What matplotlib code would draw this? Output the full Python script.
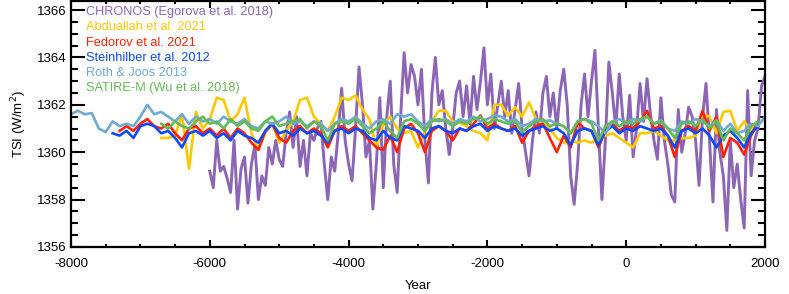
import numpy as np
import matplotlib
matplotlib.use("Agg")
import matplotlib.pyplot as plt
from matplotlib.ticker import MultipleLocator

plt.rcParams['font.family'] = ['Liberation Sans', 'DejaVu Sans']

# ---- data ----
chronos_start, chronos_step = -6000, 50
chronos = [
    1359.2, 1358.5, 1360.5, 1359.2, 1359.4, 1358.9, 1358.3, 1360.5, 1357.6, 1359.3,
    1359.8, 1357.85, 1359.5, 1360.3, 1358.0, 1359.0, 1358.6, 1360.2, 1359.5, 1360.5,
    1359.7, 1359.4, 1360.8, 1361.7, 1360.2, 1361.5, 1359.4, 1360.5, 1359.0, 1360.8,
    1360.5, 1361.0, 1361.3, 1359.5, 1358.0, 1359.8, 1359.2, 1360.8, 1362.7, 1360.5,
    1359.5, 1358.8, 1361.0, 1363.6, 1362.0, 1359.8, 1360.5, 1357.6, 1359.5, 1362.3,
    1358.5, 1361.5, 1363.0, 1359.5, 1358.3, 1361.5, 1364.2, 1362.5, 1363.7, 1363.2,
    1362.0, 1363.5, 1360.5, 1358.7, 1362.5, 1364.0, 1362.0, 1362.6, 1361.0, 1359.9,
    1361.0, 1362.5, 1363.0, 1361.5, 1362.8, 1361.2, 1363.2, 1361.8, 1363.0, 1364.4,
    1362.0, 1363.3, 1361.0, 1362.0, 1363.0, 1361.5, 1362.6, 1360.8, 1361.8, 1362.9,
    1361.0, 1360.0, 1359.0, 1360.5, 1361.7, 1360.8, 1362.5, 1363.2, 1361.5, 1362.5,
    1361.0, 1362.6, 1363.5, 1362.0, 1359.0, 1357.8, 1359.5, 1362.0, 1363.3, 1361.5,
    1363.0, 1364.3, 1361.0, 1358.0, 1360.5, 1363.8, 1362.5, 1361.0, 1363.3, 1361.5,
    1360.5, 1362.4, 1359.8, 1361.0, 1362.9, 1361.3, 1363.1, 1361.6, 1360.5, 1359.7,
    1362.3, 1360.5, 1359.5, 1358.2, 1357.9, 1361.8, 1360.0, 1360.8, 1361.9, 1361.5,
    1360.5, 1358.6, 1361.5, 1362.9, 1360.5, 1357.9, 1361.8, 1360.0, 1359.0, 1356.7,
    1360.5, 1358.5, 1359.5, 1358.0, 1356.8, 1362.6, 1359.0, 1360.5, 1361.0, 1362.8, 1363.2,
]

abduallah_start, abduallah_step = -6700, 100
abduallah = [
    1360.6, 1360.6, 1360.7, 1361.6, 1359.3, 1361.7, 1361.0, 1361.4, 1362.3, 1362.2,
    1361.3, 1361.6, 1362.3, 1360.8, 1360.1, 1360.8, 1361.2, 1360.4, 1360.9, 1361.3,
    1362.2, 1362.3, 1361.5, 1361.2, 1360.9, 1361.5, 1362.3, 1362.2, 1362.4, 1361.8,
    1361.4, 1360.2, 1361.2, 1361.5, 1361.0, 1360.8, 1360.9, 1360.2, 1360.9, 1361.3,
    1361.75, 1361.75, 1361.3, 1361.25, 1361.1, 1360.9, 1360.8, 1360.5, 1362.0, 1362.0,
    1361.55, 1361.9, 1361.5, 1362.1, 1361.4, 1361.2, 1361.0, 1360.6, 1360.4, 1360.5,
    1360.4, 1360.5, 1360.4, 1360.6, 1360.7, 1360.8, 1360.6, 1360.4, 1360.2, 1360.8,
    1360.8, 1360.9, 1360.7, 1360.5, 1360.5, 1360.6, 1360.6, 1360.7, 1361.6, 1361.5,
    1360.8, 1361.7, 1361.75, 1360.9, 1361.3, 1360.9, 1361.3,
]

fedorov_start, fedorov_step = -7300, 100
fedorov = [
    1360.9, 1361.1, 1360.9, 1361.2, 1361.4, 1361.1, 1361.0, 1361.2, 1360.8, 1360.5,
    1361.0, 1361.1, 1360.8, 1361.0, 1360.7, 1361.0, 1360.6, 1361.0, 1360.8, 1360.4,
    1360.1, 1360.9, 1361.2, 1360.6, 1360.4, 1360.9, 1361.1, 1360.8, 1361.0, 1360.8,
    1360.2, 1360.9, 1361.1, 1360.9, 1361.1, 1360.8, 1360.5, 1360.2, 1360.1, 1360.7,
    1360.0, 1361.0, 1361.2, 1360.8, 1360.0, 1360.9, 1361.1, 1360.9, 1360.5, 1361.0,
    1360.9, 1361.2, 1361.55, 1361.0, 1361.2, 1361.0, 1360.9, 1361.1, 1360.4, 1360.9,
    1361.1, 1361.2, 1360.6, 1360.0, 1360.7, 1360.2, 1361.25, 1361.0, 1360.9, 1360.2,
    1360.9, 1361.2, 1360.9, 1361.1, 1361.0, 1361.3, 1361.75, 1361.0, 1361.1, 1360.7,
    1359.8, 1360.9, 1361.1, 1360.9, 1361.75, 1360.9, 1361.5, 1359.8, 1360.6, 1360.4,
    1359.9, 1360.7, 1361.3,
]

steinhilber_start, steinhilber_step = -7400, 100
steinhilber = [
    1360.8, 1360.7, 1360.9, 1360.6, 1361.1, 1361.2, 1361.1, 1360.8, 1360.9, 1360.6,
    1360.2, 1360.8, 1360.9, 1360.7, 1360.9, 1360.6, 1360.8, 1360.5, 1360.9, 1360.7,
    1360.6, 1360.4, 1360.9, 1361.2, 1360.8, 1360.9, 1360.7, 1361.0, 1360.8, 1360.9,
    1360.7, 1360.4, 1360.9, 1361.0, 1360.8, 1361.0, 1360.9, 1360.6, 1360.5, 1360.9,
    1360.6, 1360.5, 1361.1, 1361.0, 1360.9, 1360.6, 1361.0, 1361.1, 1360.9, 1360.8,
    1361.0, 1360.9, 1361.1, 1361.2, 1360.9, 1361.1, 1361.0, 1360.9, 1361.0, 1360.7,
    1360.9, 1361.0, 1361.1, 1360.9, 1361.0, 1360.8, 1360.3, 1360.9, 1361.0, 1360.9,
    1360.3, 1360.9, 1361.1, 1360.8, 1361.0, 1360.9, 1361.1, 1361.0, 1360.9, 1361.0,
    1360.7, 1360.2, 1360.9, 1361.0, 1360.8, 1361.0, 1360.7, 1360.2, 1360.7, 1360.9,
    1360.6, 1360.2, 1360.8, 1361.1,
]

roth_start, roth_step = -8000, 100
roth_joos = [
    1361.6, 1361.75, 1361.6, 1361.65, 1361.0, 1360.85, 1361.3, 1361.1, 1361.2, 1361.1,
    1361.5, 1362.0, 1361.6, 1361.7, 1361.5, 1361.3, 1361.6, 1361.2, 1361.5, 1361.3,
    1361.4, 1361.2, 1361.5, 1361.3, 1361.2, 1361.4, 1361.1, 1361.0, 1361.3, 1361.2,
    1361.3, 1361.5, 1361.2, 1361.3, 1361.1, 1361.3, 1361.2, 1360.9, 1361.2, 1361.4,
    1361.3, 1361.5, 1361.2, 1361.0, 1361.3, 1361.4, 1361.2, 1361.6, 1361.5, 1361.6,
    1361.3, 1361.1, 1361.4, 1361.3, 1361.4, 1361.2, 1361.4, 1361.3, 1361.5, 1361.3,
    1361.4, 1361.55, 1361.5, 1361.3, 1361.4, 1361.1, 1361.2, 1361.4, 1361.3, 1361.35,
    1361.2, 1361.1, 1360.8, 1361.3, 1361.4, 1361.3, 1361.1, 1360.8, 1361.3, 1361.4,
    1361.2, 1361.4, 1361.3, 1361.5, 1361.2, 1361.35, 1361.0, 1360.9, 1361.3, 1361.2,
    1361.4, 1361.3, 1361.1, 1361.35, 1360.9, 1361.2, 1360.8, 1360.9, 1361.2, 1361.1,
    1361.5,
]

satire_start, satire_step = -6700, 100
satire_m = [
    1361.2, 1361.0, 1361.3, 1361.1, 1361.0, 1361.3, 1361.5, 1361.2, 1361.3, 1361.0,
    1361.4, 1361.1, 1361.3, 1361.0, 1360.9, 1361.3, 1361.5, 1361.1, 1361.2, 1361.3,
    1361.4, 1361.0, 1361.3, 1361.1, 1360.5, 1361.2, 1361.3, 1361.2, 1361.4, 1361.1,
    1360.8, 1361.0, 1361.3, 1360.9, 1360.6, 1361.3, 1361.4, 1361.2, 1360.9, 1361.3,
    1361.4, 1361.3, 1361.1, 1361.3, 1361.2, 1361.4, 1361.5, 1361.2, 1361.4, 1361.3,
    1361.2, 1361.3, 1360.85, 1361.1, 1361.3, 1361.4, 1361.1, 1361.2, 1361.1, 1360.8,
    1361.3, 1361.4, 1361.2, 1360.5, 1361.1, 1361.3, 1361.1, 1361.3, 1361.2, 1361.4,
    1361.5, 1361.2, 1361.3, 1361.0, 1360.6, 1361.2, 1361.3, 1361.1, 1361.4, 1361.0,
    1361.3, 1360.5, 1361.0, 1360.8, 1360.5, 1361.1, 1361.3,
]

labels = ["CHRONOS (Egorova et al. 2018)", "Abduallah et al. 2021", "Fedorov et al. 2021",
          "Steinhilber et al. 2012", "Roth & Joos 2013", "SATIRE-M (Wu et al. 2018)"]
colors = ["#8C66B4", "#FFC800", "#FF2208", "#0A4BFF", "#6EAAD2", "#66BA55"]
widths = [2.1, 1.9, 1.9, 1.9, 1.9, 1.9]

series = [
    (chronos_start, chronos_step, chronos),
    (abduallah_start, abduallah_step, abduallah),
    (fedorov_start, fedorov_step, fedorov),
    (steinhilber_start, steinhilber_step, steinhilber),
    (roth_start, roth_step, roth_joos),
    (satire_start, satire_step, satire_m),
]

W, H = 789, 294
fig = plt.figure(figsize=(W/100, H/100), dpi=100)
ax = fig.add_axes([71/W, 1 - 247/H, (765-71)/W, (247-1)/H])

for (s, st, vals), c, lw in zip(series, colors, widths):
    yrs = s + st * np.arange(len(vals))
    ax.plot(yrs, vals, color=c, lw=lw, solid_joinstyle='round')

ax.set_xlim(-8000, 2000)
ax.set_ylim(1356, 1366.38)
ax.xaxis.set_major_locator(MultipleLocator(2000))
ax.xaxis.set_minor_locator(MultipleLocator(500))
ax.yaxis.set_major_locator(MultipleLocator(2))
ax.yaxis.set_minor_locator(MultipleLocator(0.5))
ax.tick_params(axis='both', which='both', direction='in', top=True, right=True,
               labelsize=9.5, width=1.5, colors='black')
ax.tick_params(axis='y', which='major', length=10, pad=3)
ax.tick_params(axis='y', which='minor', length=5)
ax.tick_params(axis='x', which='major', length=5, pad=8)
ax.tick_params(axis='x', which='minor', length=2.5)
for sp in ax.spines.values():
    sp.set_linewidth(1.6)

ax.set_xticks([-8000, -6000, -4000, -2000, 0, 2000])
ax.set_xticklabels(["-8000", "-6000", "-4000", "-2000", "0", "2000"])
ax.set_xlabel("Year", fontsize=9.5, labelpad=7)
ax.set_ylabel("TSI (W/m$^2$)", fontsize=9.5, labelpad=6)

for i, (lab, c) in enumerate(zip(labels, colors)):
    fig.text(86/W, 1 - (12.3 + 15.2 * i)/H, lab, color=c, fontsize=9.2,
             va='center', ha='left')

fig.savefig("out.png", dpi=100)
